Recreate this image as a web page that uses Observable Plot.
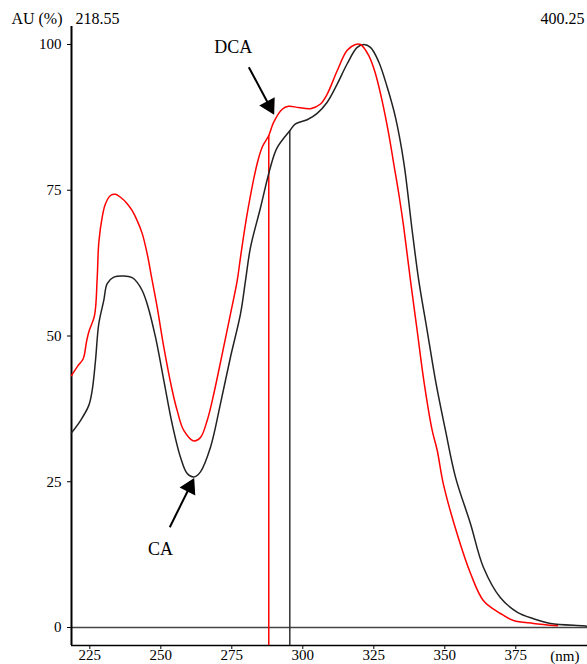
<!DOCTYPE html>
<html>
<head>
<meta charset="utf-8">
<script src="https://cdn.jsdelivr.net/npm/d3@7"></script>
<script src="https://cdn.jsdelivr.net/npm/@observablehq/plot@0.6"></script>
<style>
  html, body { margin: 0; padding: 0; background: #ffffff; }
  #chart svg { display: block; }
</style>
</head>
<body>
<div id="chart"></div>
<script>
// DCA spectrum (red)
const redNm = [218.55,220.66,222.67,223.83,224.64,226.65,227.6,228.16,229.36,230.52,232.28,234.04,235.8,238.16,239.92,241.68,243.44,245.2,246.97,248.73,251.05,254.01,255.77,258.09,261.61,263.97,266.33,268.66,271.61,274.54,276.9,278.06,280.42,283.94,285.8,288.02,289.68,292.74,294.96,298.48,302.7,306.23,308.59,312.11,315.63,318.55,320.31,323.23,325.59,327.95,330.28,332.04,333.8,335.56,337.92,340.28,342.6,345.56,347.32,349.54,354.82,359.04,363.62,369.61,374.18,381.23,389.68];
const redAU = [43.2,44.8,46.1,49,50.7,53.5,60,66,70.4,72.7,74.1,74.3,73.8,72.7,71.5,69.8,67.6,64.1,59.5,54.9,48.1,40.7,37.2,33.8,32.0,32.6,35.5,40.1,46.9,53.8,59.5,63.5,71,79.6,82.5,84.4,86.6,88.9,89.4,89.2,89,89.8,91.5,95.5,99,100,100,98.1,95,90.3,84.6,79.5,74.4,68.6,59.5,50.9,42.4,33.8,30.4,24.5,15.3,9.3,4.6,2.4,1.2,0.7,0.3];

// CA spectrum (black)
const blackNm = [218.55,221.72,224.64,225.84,227.0,228.16,229.92,231.12,233.44,236.97,239.92,241.68,243.44,245.2,248.13,251.05,254.01,256.93,259.29,261.61,263.97,267.49,271.01,274.54,278.06,279.82,281.58,285.1,288.62,290.98,295.42,297.42,301.54,305.06,308.59,312.11,315.63,319.15,321.47,323.83,326.75,329.71,332.63,335.56,338.51,340.84,343.8,346.72,350.24,353.76,359.04,363.62,369.61,375.59,381.23,387.21,398.83,400.25];
const blackAU = [33.4,35.5,38.1,40.7,45.8,52.1,56.1,59,60.1,60.3,60,59.2,57.8,55.5,49.8,42.4,34.9,29.2,26.4,25.8,26.7,30.9,38.4,46.4,53.8,59.5,65.2,72,79,82.3,85.2,86.4,87.1,88.2,90.1,93.2,96.7,99.5,100,99.5,97,92.7,87.5,79.8,68.1,59.5,50.9,42.4,33.8,25.8,17.8,10.3,5.1,2.6,1.5,0.7,0.3,0.2];

// axis
const xDomain = [218.55, 400.25];
const yDomain = [-3.09, 103.09];
const xTicks = [225, 250, 275, 300, 325, 350, 375];
const yTicks = [0, 25, 50, 75, 100];
const cornerLabels = ["AU (%)", "218.55", "400.25", "(nm)"];

// cursor lines (wavelength, AU at curve)
const redCursor = [288.02, 84.4];
const blackCursor = [295.42, 85.2];

// annotations
const labels = ["DCA", "CA"];
const labelNm = [275.5, 249.9];
const labelAU = [99.5, 13.5];
const arrowFromNm = [280.98, 253.16];
const arrowFromAU = [96.1, 17.2];
const arrowHeadNm = [288.23, 260.17];
const arrowHeadAU = [89.5, 24.1];
const arrowAngle = [151.8, 26.4];

const red = redNm.map((x, i) => ({x, y: redAU[i]}));
const black = blackNm.map((x, i) => ({x, y: blackAU[i]}));
const idx2 = [0, 1];

const plot = Plot.plot({
  width: 587,
  height: 664,
  marginLeft: 71,
  marginRight: 0,
  marginTop: 26,
  marginBottom: 19,
  style: {fontFamily: "'Liberation Serif', serif", fontSize: "15px", background: "#ffffff", color: "#000"},
  x: {domain: xDomain, ticks: xTicks, tickSize: 4, tickPadding: 0, label: null},
  y: {domain: yDomain, ticks: yTicks, tickSize: 4, tickPadding: 6, label: null},
  marks: [
    Plot.ruleY([0], {stroke: "#444", strokeWidth: 1.5}),
    Plot.ruleX([xDomain[0]], {stroke: "#000", strokeWidth: 2}),
    Plot.ruleY([yDomain[0]], {stroke: "#000", strokeWidth: 1.5}),
    Plot.ruleX([redCursor[0]], {y1: yDomain[0], y2: redCursor[1], stroke: "#ff0000", strokeWidth: 1.5}),
    Plot.ruleX([blackCursor[0]], {y1: yDomain[0], y2: blackCursor[1], stroke: "#333", strokeWidth: 1.5}),
    Plot.line(black, {x: "x", y: "y", stroke: "#222", strokeWidth: 1.5, curve: "catmull-rom"}),
    Plot.line(red, {x: "x", y: "y", stroke: "#ff0000", strokeWidth: 1.5, curve: "catmull-rom"}),
    Plot.link(idx2, {x1: i => arrowFromNm[i], y1: i => arrowFromAU[i], x2: i => arrowHeadNm[i], y2: i => arrowHeadAU[i], stroke: "#000", strokeWidth: 2}),
    Plot.dot(idx2, {x: i => arrowHeadNm[i], y: i => arrowHeadAU[i], symbol: "triangle", r: 6.5, fill: "#000", stroke: "none", rotate: i => arrowAngle[i]}),
    Plot.text(idx2, {x: i => labelNm[i], y: i => labelAU[i], text: i => labels[i], fontSize: 18, fill: "#000"}),
    Plot.text([cornerLabels[0]], {text: d => d, fontSize: 16, frameAnchor: "top-left", textAnchor: "end", lineAnchor: "middle", dx: -9, dy: -8}),
    Plot.text([cornerLabels[1]], {text: d => d, fontSize: 16, frameAnchor: "top-left", textAnchor: "start", lineAnchor: "middle", dx: 4, dy: -8}),
    Plot.text([cornerLabels[2]], {text: d => d, fontSize: 16, frameAnchor: "top-right", textAnchor: "end", lineAnchor: "middle", dx: -3, dy: -8}),
    Plot.text([cornerLabels[3]], {text: d => d, fontSize: 15, frameAnchor: "bottom-right", textAnchor: "end", lineAnchor: "middle", dx: -8, dy: 11})
  ]
});
document.getElementById("chart").appendChild(plot);
</script>
</body>
</html>
